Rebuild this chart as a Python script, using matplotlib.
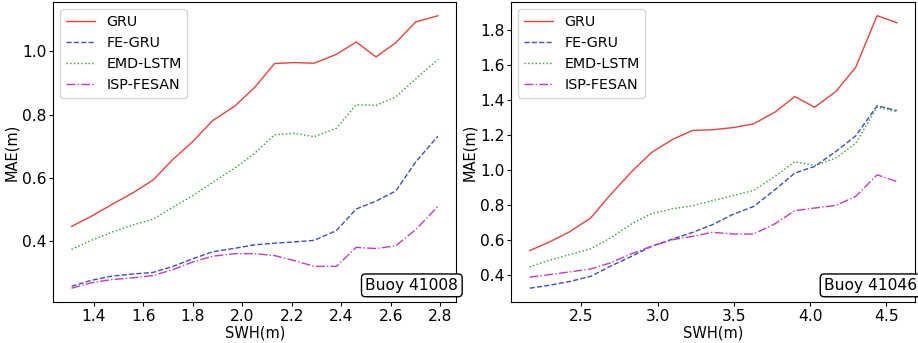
import matplotlib
matplotlib.use("Agg")
import matplotlib.pyplot as plt

# Buoy 41008
swh_41008 = [1.31, 1.39, 1.47, 1.56, 1.64, 1.72, 1.80, 1.88, 1.97, 2.05,
             2.13, 2.21, 2.29, 2.38, 2.46, 2.54, 2.62, 2.70, 2.79]
gru_41008 = [0.447, 0.479, 0.515, 0.554, 0.594, 0.659, 0.715, 0.781, 0.827, 0.886,
             0.961, 0.964, 0.962, 0.990, 1.029, 0.982, 1.027, 1.092, 1.112]
fegru_41008 = [0.258, 0.277, 0.290, 0.297, 0.302, 0.321, 0.345, 0.367, 0.378, 0.389,
               0.394, 0.398, 0.403, 0.434, 0.502, 0.527, 0.559, 0.650, 0.732]
emd_41008 = [0.375, 0.403, 0.428, 0.452, 0.470, 0.508, 0.544, 0.586, 0.631, 0.678,
             0.736, 0.741, 0.730, 0.757, 0.831, 0.829, 0.856, 0.912, 0.974]
isp_41008 = [0.252, 0.269, 0.279, 0.285, 0.292, 0.311, 0.335, 0.353, 0.361, 0.361,
             0.355, 0.339, 0.321, 0.321, 0.381, 0.377, 0.386, 0.437, 0.510]
xticks_41008 = [1.4, 1.6, 1.8, 2.0, 2.2, 2.4, 2.6, 2.8]
yticks_41008 = [0.4, 0.6, 0.8, 1.0]

# Buoy 41046
swh_41046 = [2.16, 2.29, 2.42, 2.56, 2.69, 2.83, 2.96, 3.10, 3.23, 3.36,
             3.50, 3.63, 3.77, 3.90, 4.03, 4.17, 4.30, 4.44, 4.57]
gru_41046 = [0.537, 0.587, 0.644, 0.724, 0.857, 0.990, 1.099, 1.175, 1.225, 1.229,
             1.242, 1.263, 1.330, 1.419, 1.358, 1.448, 1.587, 1.882, 1.842]
fegru_41046 = [0.322, 0.339, 0.360, 0.390, 0.448, 0.505, 0.562, 0.604, 0.642, 0.686,
               0.747, 0.790, 0.886, 0.981, 1.019, 1.105, 1.194, 1.366, 1.339]
emd_41046 = [0.444, 0.482, 0.514, 0.547, 0.610, 0.691, 0.749, 0.777, 0.794, 0.823,
             0.853, 0.882, 0.962, 1.046, 1.025, 1.067, 1.152, 1.358, 1.333]
isp_41046 = [0.385, 0.400, 0.415, 0.432, 0.467, 0.520, 0.562, 0.600, 0.619, 0.642,
             0.632, 0.632, 0.691, 0.766, 0.781, 0.796, 0.848, 0.971, 0.933]

plt.rcParams['font.size'] = 10.5


def draw(ax, x, gru, fegru, emd, isp, buoy):
    ax.plot(x, gru, color='#e8413c', linestyle='-', lw=1.0, label='GRU')
    ax.plot(x, fegru, color='#3a4fc0', linestyle='--', lw=1.0, label='FE-GRU')
    ax.plot(x, emd, color='#2e9a2e', linestyle=':', lw=1.0, label='EMD-LSTM')
    ax.plot(x, isp, color='#c53ac5', linestyle='-.', lw=1.0, label='ISP-FESAN')
    ax.set_xlabel('SWH(m)', labelpad=1)
    ax.set_ylabel('MAE(m)', labelpad=2)
    ax.tick_params(length=3, pad=2, labelsize=11.2)
    ax.legend(loc='upper left', fontsize=10.3)
    ax.text(1.005, 0.03, buoy, transform=ax.transAxes, ha='right', va='bottom',
            fontsize=11.2,
            bbox=dict(boxstyle='round,pad=0.25', fc='white', ec='black'))


fig = plt.figure(figsize=(9.18, 3.43), dpi=100)
ax1 = fig.add_axes([0.058, 0.12, 0.439, 0.874])
ax2 = fig.add_axes([0.557, 0.12, 0.440, 0.874])
draw(ax1, swh_41008, gru_41008, fegru_41008, emd_41008, isp_41008, 'Buoy 41008')
draw(ax2, swh_41046, gru_41046, fegru_41046, emd_41046, isp_41046, 'Buoy 41046')
ax1.set_xticks(xticks_41008)
ax1.set_yticks(yticks_41008)
fig.savefig('out.png', dpi=100)
